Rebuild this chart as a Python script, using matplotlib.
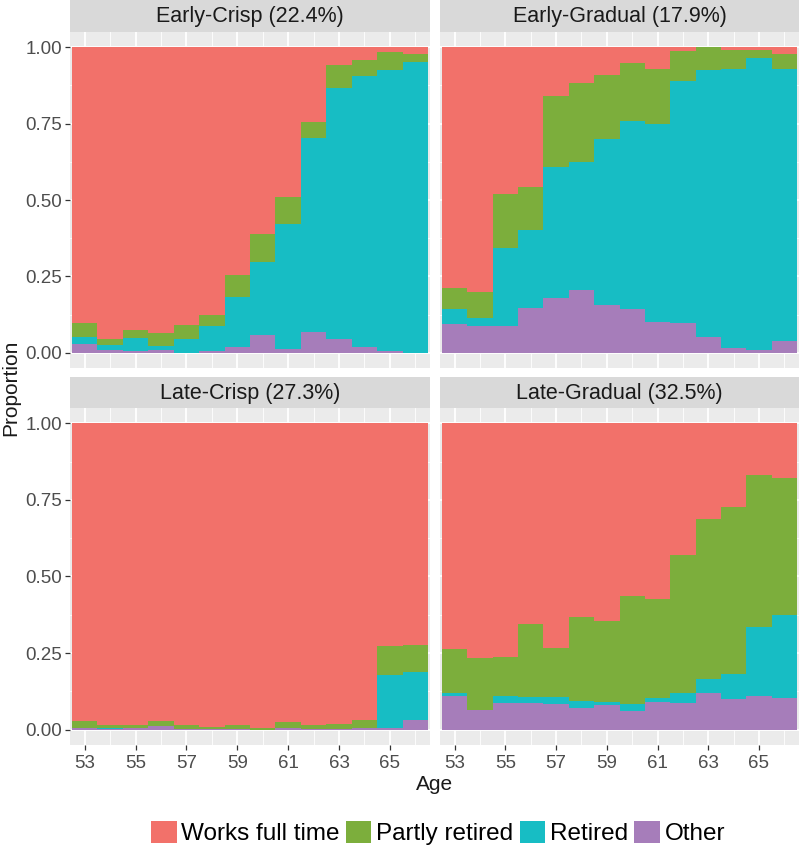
import matplotlib
matplotlib.use('Agg')
import matplotlib.pyplot as plt
from matplotlib.patches import Patch
import numpy as np

plt.rcParams['font.family'] = ['Liberation Sans', 'DejaVu Sans']

ages = np.arange(53, 67)
age_ticks = [53, 55, 57, 59, 61, 63, 65]
prop_ticks = [0.0, 0.25, 0.5, 0.75, 1.0]
prop_labels = ['0.00', '0.25', '0.50', '0.75', '1.00']

states = ['Works full time', 'Partly retired', 'Retired', 'Other']
state_colors = ['#F2716A', '#7CAE3C', '#17BDC4', '#A67DBA']

panel_titles = ['Early-Crisp (22.4%)', 'Early-Gradual (17.9%)',
                'Late-Crisp (27.3%)', 'Late-Gradual (32.5%)']

# proportions per age (53..66) for each cluster
early_crisp_work = [0.904, 0.956, 0.924, 0.937, 0.910, 0.875, 0.746, 0.612, 0.490, 0.244, 0.058, 0.041, 0.014, 0.022]
early_crisp_partly = [0.044, 0.020, 0.027, 0.041, 0.046, 0.038, 0.072, 0.091, 0.088, 0.053, 0.076, 0.053, 0.062, 0.027]
early_crisp_retired = [0.022, 0.015, 0.044, 0.014, 0.044, 0.082, 0.162, 0.240, 0.411, 0.635, 0.822, 0.886, 0.919, 0.951]
early_crisp_other = [0.030, 0.009, 0.005, 0.008, 0.000, 0.005, 0.020, 0.057, 0.011, 0.068, 0.044, 0.020, 0.005, 0.000]

early_grad_work = [0.788, 0.800, 0.480, 0.459, 0.161, 0.118, 0.090, 0.052, 0.072, 0.011, 0.000, 0.009, 0.009, 0.022]
early_grad_partly = [0.070, 0.086, 0.177, 0.138, 0.231, 0.258, 0.211, 0.188, 0.179, 0.098, 0.076, 0.063, 0.027, 0.050]
early_grad_retired = [0.049, 0.027, 0.254, 0.256, 0.428, 0.419, 0.544, 0.616, 0.648, 0.793, 0.872, 0.912, 0.956, 0.890]
early_grad_other = [0.093, 0.087, 0.089, 0.147, 0.180, 0.205, 0.155, 0.144, 0.101, 0.098, 0.052, 0.016, 0.008, 0.038]

late_crisp_work = [0.973, 0.984, 0.984, 0.973, 0.986, 0.991, 0.985, 0.995, 0.976, 0.986, 0.980, 0.969, 0.727, 0.724]
late_crisp_partly = [0.022, 0.010, 0.011, 0.016, 0.011, 0.007, 0.012, 0.005, 0.019, 0.011, 0.017, 0.025, 0.093, 0.087]
late_crisp_retired = [0.000, 0.003, 0.000, 0.000, 0.000, 0.000, 0.000, 0.000, 0.000, 0.000, 0.000, 0.000, 0.175, 0.158]
late_crisp_other = [0.005, 0.003, 0.005, 0.011, 0.003, 0.002, 0.003, 0.000, 0.005, 0.003, 0.003, 0.006, 0.005, 0.031]

late_grad_work = [0.736, 0.766, 0.762, 0.654, 0.733, 0.631, 0.646, 0.564, 0.575, 0.431, 0.311, 0.273, 0.168, 0.179]
late_grad_partly = [0.144, 0.169, 0.127, 0.239, 0.160, 0.276, 0.265, 0.351, 0.321, 0.449, 0.525, 0.545, 0.496, 0.447]
late_grad_retired = [0.009, 0.000, 0.024, 0.020, 0.022, 0.022, 0.007, 0.023, 0.015, 0.033, 0.044, 0.082, 0.225, 0.270]
late_grad_other = [0.111, 0.065, 0.087, 0.087, 0.085, 0.071, 0.082, 0.062, 0.089, 0.087, 0.120, 0.100, 0.111, 0.104]

panels = [
    [early_crisp_work, early_crisp_partly, early_crisp_retired, early_crisp_other],
    [early_grad_work, early_grad_partly, early_grad_retired, early_grad_other],
    [late_crisp_work, late_crisp_partly, late_crisp_retired, late_crisp_other],
    [late_grad_work, late_grad_partly, late_grad_retired, late_grad_other],
]

W, H = 800, 847
fig = plt.figure(figsize=(W / 100, H / 100), dpi=100)

def px_axes(x0, y0, x1, y1):
    # pixel box (top-left origin) -> figure axes
    return fig.add_axes([x0 / W, 1 - y1 / H, (x1 - x0) / W, (y1 - y0) / H])

cols = [(70, 430), (440, 799)]
rows = [(0, 32, 368), (377, 408, 745)]
tick_col = '#4D4D4D'

for i, (title, series) in enumerate(zip(panel_titles, panels)):
    r, c = divmod(i, 2)
    x0, x1 = cols[c]
    s0, p0, p1 = rows[r]

    strip = px_axes(x0, s0, x1, p0)
    strip.set_facecolor('#D9D9D9')
    strip.set_xticks([]); strip.set_yticks([])
    for sp in strip.spines.values():
        sp.set_visible(False)
    strip.text(0.5, 0.48, title, ha='center', va='center', fontsize=15.5, color='#1A1A1A',
               transform=strip.transAxes)

    ax = px_axes(x0, p0, x1, p1)
    ax.set_facecolor('#EBEBEB')
    for sp in ax.spines.values():
        sp.set_visible(False)
    for a in ages:
        ax.axvline(a, color='white', lw=1.3 if a % 2 == 1 else 0.6, zorder=0)
    for yv in np.arange(0, 1.01, 0.125):
        ax.axhline(yv, color='white', lw=1.3 if (yv * 4) % 1 == 0 else 0.6, zorder=0)

    # stack from bottom: Other, Retired, Partly retired, Works full time
    bottom = np.zeros(len(ages))
    for k in [3, 2, 1, 0]:
        vals = np.array(series[k])
        ax.bar(ages, vals, bottom=bottom, width=1.0, color=state_colors[k],
               linewidth=0, zorder=2)
        bottom += vals

    ax.set_xlim(52.42, 66.58)
    ax.set_ylim(-0.05, 1.05)
    ax.set_xticks(age_ticks)
    ax.set_yticks(prop_ticks)
    ax.tick_params(length=3.5, width=0.9, color='#333333', labelcolor=tick_col,
                   labelsize=13.5, pad=2)
    if r == 1:
        ax.set_xticklabels([str(a) for a in age_ticks])
        ax.tick_params(axis='x', pad=4)
    else:
        ax.tick_params(axis='x', length=0, labelbottom=False)
    if c == 0:
        ax.set_yticklabels(prop_labels)
    else:
        ax.tick_params(axis='y', length=0, labelleft=False)

fig.text(434.5 / W, 1 - 784 / H, 'Age', ha='center', va='center', fontsize=15, color='#1A1A1A')
fig.text(11 / W, 1 - 388 / H, 'Proportion', ha='center', va='center', rotation=90,
         fontsize=15, color='#1A1A1A')

handles = [Patch(facecolor=col, edgecolor='none', label=lab) for lab, col in zip(states, state_colors)]
fig.legend(handles=handles, loc='center', bbox_to_anchor=(438 / W, 1 - 833 / H), ncol=4,
           frameon=False, fontsize=17.5, handlelength=1.05, handleheight=1.05,
           handletextpad=0.2, columnspacing=0.25, borderpad=0, borderaxespad=0)

fig.savefig('out.png', dpi=100, facecolor='white')
